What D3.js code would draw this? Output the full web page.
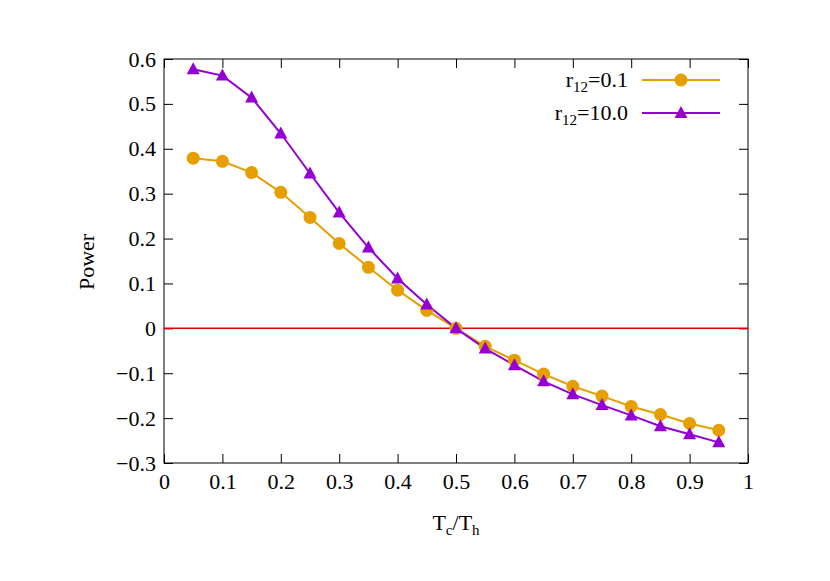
<!DOCTYPE html><html><head><meta charset="utf-8">
<script src="https://cdn.jsdelivr.net/npm/d3@7"></script>
<style>body{margin:0;background:#fff}text{font-family:"Liberation Serif","Times New Roman",serif}</style></head><body>
<script>
const xs=[0.05,0.1,0.15,0.2,0.25,0.3,0.35,0.4,0.45,0.5,0.55,0.6,0.65,0.7,0.75,0.8,0.85,0.9,0.95];
const seriesA=[0.379,0.372,0.347,0.303,0.247,0.189,0.136,0.085,0.040,0,-0.040,-0.071,-0.102,-0.129,-0.151,-0.174,-0.192,-0.212,-0.227];
const seriesB=[0.577,0.563,0.514,0.434,0.345,0.258,0.180,0.111,0.053,0,-0.045,-0.082,-0.118,-0.147,-0.171,-0.194,-0.218,-0.236,-0.254];
const xTicks=[0,0.1,0.2,0.3,0.4,0.5,0.6,0.7,0.8,0.9,1];
const yTicks=[-0.3,-0.2,-0.1,0,0.1,0.2,0.3,0.4,0.5,0.6];
const W=830,H=581,L=164,R=748,T=59,B=463;
const svg=d3.select("body").append("svg").attr("width",W).attr("height",H);
const x=d3.scaleLinear().domain([0,1]).range([L,R]);
const y=d3.scaleLinear().domain([-0.3,0.6]).range([B,T]);
const fmt=d=>d===0?"0":(d<0?"\u22120":"0")+d3.format(".1f")(Math.abs(d)).slice(1);
const xfmt=d=>d===0?"0":d===1?"1":d3.format(".1f")(d);
svg.append("g").attr("transform",`translate(0,${B})`).call(d3.axisBottom(x).tickValues(xTicks).tickSize(-9).tickPadding(10).tickFormat(xfmt));
svg.append("g").attr("transform",`translate(0,${T})`).call(d3.axisTop(x).tickValues(xTicks).tickSize(-9).tickFormat(""));
svg.append("g").attr("transform",`translate(${L},0)`).call(d3.axisLeft(y).tickValues(yTicks).tickSize(-9).tickPadding(8).tickFormat(fmt));
svg.append("g").attr("transform",`translate(${R},0)`).call(d3.axisRight(y).tickValues(yTicks).tickSize(-9).tickFormat(""));
svg.selectAll(".domain").remove();
svg.selectAll(".tick line").attr("stroke","#000");
svg.selectAll("g").attr("font-size",null).attr("font-family",null);
svg.selectAll(".tick text").attr("font-size",22).attr("fill","#000");
svg.append("rect").attr("x",L).attr("y",T).attr("width",R-L).attr("height",B-T).attr("fill","none").attr("stroke","#000");
svg.append("line").attr("x1",L).attr("x2",R).attr("y1",y(0)).attr("y2",y(0)).attr("stroke","#e00000").attr("stroke-width",1.5);
const cA="#e69f00",cB="#9400d3";
const line=d3.line().x((d,i)=>x(xs[i])).y(d=>y(d));
svg.append("path").datum(seriesA).attr("d",line).attr("fill","none").attr("stroke",cA).attr("stroke-width",2);
svg.append("path").datum(seriesB).attr("d",line).attr("fill","none").attr("stroke",cB).attr("stroke-width",2);
svg.selectAll(".ca").data(seriesA).enter().append("circle").attr("cx",(d,i)=>x(xs[i])).attr("cy",d=>y(d)).attr("r",6.5).attr("fill",cA);
const tri=(cx,cy)=>`M${cx},${cy-7}L${cx+6.5},${cy+5}L${cx-6.5},${cy+5}Z`;
svg.selectAll(".cb").data(seriesB).enter().append("path").attr("d",(d,i)=>tri(x(xs[i]),y(d))).attr("fill",cB);
function leg(yy,lab,c,mk){
 const t=svg.append("text").attr("x",628).attr("y",yy+7).attr("text-anchor","end").attr("font-size",22);
 t.append("tspan").text("r");t.append("tspan").attr("font-size",15).attr("dy",5).text("12");t.append("tspan").attr("dy",-5).text(lab);
 svg.append("line").attr("x1",642).attr("x2",720).attr("y1",yy).attr("y2",yy).attr("stroke",c).attr("stroke-width",2);
 if(mk==="c")svg.append("circle").attr("cx",681).attr("cy",yy).attr("r",6.5).attr("fill",c);
 else svg.append("path").attr("d",tri(681,yy)).attr("fill",c);
}
leg(80,"=0.1",cA,"c");leg(113,"=10.0",cB,"t");
const xt=svg.append("text").attr("x",456).attr("y",530).attr("text-anchor","middle").attr("font-size",22);
xt.append("tspan").text("T");xt.append("tspan").attr("font-size",15).attr("dy",5).text("c");xt.append("tspan").attr("dy",-5).text("/T");xt.append("tspan").attr("font-size",15).attr("dy",5).text("h");
svg.append("text").attr("transform","translate(94,262) rotate(-90)").attr("text-anchor","middle").attr("font-size",22).text("Power");
</script></body></html>
